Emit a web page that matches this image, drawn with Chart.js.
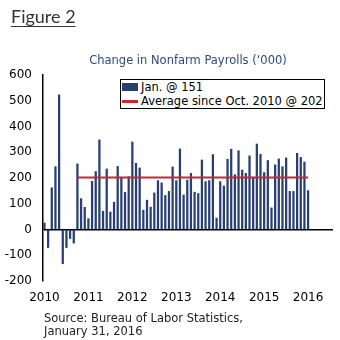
<!DOCTYPE html>
<html>
<head>
<meta charset="utf-8">
<script src="https://cdn.jsdelivr.net/npm/chart.js@4.4.1/dist/chart.umd.min.js"></script>
<style>
  body { margin: 0; background: #fff; }
  #wrap { position: relative; width: 340px; height: 340px; overflow: hidden; font-family: "DejaVu Sans", sans-serif; }
  #chart { position: absolute; left: 0; top: 0; }
  #fig { position: absolute; left: 11px; top: 5px; font-family: Lato, sans-serif; font-size: 18px; line-height: 22px; color: #333; text-decoration: underline; text-decoration-thickness: 1px; text-underline-offset: 3px; }
  #title { position: absolute; left: 43px; width: 290px; top: 53px; text-align: center; font-size: 11.5px; line-height: 14px; color: #2d4a80; white-space: nowrap; }
  #legend { position: absolute; left: 120px; top: 79px; width: 203px; height: 28px; border: 1px solid #000; background: #fff; font-size: 11.5px; color: #000; }
  #legend .row { height: 14px; line-height: 14px; white-space: nowrap; display: flex; align-items: center; }
  #legend .sw { width: 16px; margin-left: 1px; margin-right: 3px; }
  #source { position: absolute; left: 44px; top: 312px; font-size: 11.5px; line-height: 13px; color: #222; }
</style>
</head>
<body>
<div id="wrap">
  <canvas id="chart" width="340" height="340"></canvas>
  <div id="fig">Figure 2</div>
  <div id="title">Change in Nonfarm Payrolls (&#8216;000)</div>
  <div id="legend"></div>
  <div id="source">Source: Bureau of Labor Statistics,<br>January 31, 2016</div>
</div>
<script>
// monthly change in nonfarm payrolls, thousands
const jobs2010 = [25, -70, 162, 244, 523, -133, -70, -35, -53, 255, 120, 86];
const jobs2011 = [42, 187, 225, 348, 71, 235, 68, 106, 245, 203, 144, 205];
const jobs2012 = [340, 257, 239, 75, 114, 87, 142, 190, 181, 132, 148, 243];
const jobs2013 = [190, 313, 134, 192, 218, 145, 140, 270, 186, 190, 291, 44];
const jobs2014 = [186, 169, 273, 312, 213, 306, 231, 218, 286, 203, 332, 292];
const jobs2015 = [221, 268, 84, 251, 274, 244, 278, 148, 148, 296, 280, 262];
const jobs2016 = [151];

const yearTicks = [2010, 2011, 2012, 2013, 2014, 2015, 2016];
const avgValue = 202;
const avgStart = 9; // Oct. 2010

const barLabel = 'Jan. @ 151';
const avgLabel = 'Average since Oct. 2010 @ 202';

const BAR_COLOR = '#283f72';
const AVG_COLOR = '#c8282e';

const payrolls = [].concat(jobs2010, jobs2011, jobs2012, jobs2013, jobs2014, jobs2015, jobs2016);
const barData = payrolls.map((v, i) => ({ x: i, y: v }));
const avgData = payrolls.slice(avgStart).map((v, i) => ({ x: avgStart + i, y: avgValue }));

const ctx = document.getElementById('chart').getContext('2d');
const chart = new Chart(ctx, {
  type: 'bar',
  data: {
    datasets: [
      {
        type: 'line',
        label: avgLabel,
        data: avgData,
        borderColor: AVG_COLOR,
        borderWidth: 2,
        pointRadius: 0,
        fill: false,
        order: 0
      },
      {
        label: barLabel,
        data: barData,
        backgroundColor: BAR_COLOR,
        barThickness: 1.6,
        order: 1
      }
    ]
  },
  options: {
    responsive: false,
    animation: false,
    layout: { padding: { top: 75, right: 7, bottom: 0, left: 0 } },
    plugins: { legend: { display: false }, tooltip: { enabled: false } },
    scales: {
      x: {
        type: 'linear',
        offset: false,
        min: -0.4,
        max: 78.8,
        grid: { display: false, drawTicks: false },
        border: { display: false },
        afterBuildTicks: axis => { axis.ticks = yearTicks.map(y => ({ value: (y - 2010) * 12 })); },
        afterFit: axis => { axis.height = 59; },
        ticks: {
          padding: 10,
          maxRotation: 0,
          autoSkip: false,
          color: '#000',
          font: { family: 'DejaVu Sans', size: 12 },
          callback: v => String(2010 + v / 12)
        }
      },
      y: {
        min: -200,
        max: 600,
        grid: {
          drawTicks: false,
          lineWidth: 1.5,
          color: c => (c.tick && c.tick.value === 0) ? '#000' : 'rgba(0,0,0,0)'
        },
        border: { display: true, color: '#000', width: 1.5 },
        afterFit: axis => { axis.width = 43; },
        ticks: {
          stepSize: 100,
          padding: 11,
          color: '#000',
          font: { family: 'DejaVu Sans', size: 12 }
        }
      }
    }
  }
});

// legend box
const legend = document.getElementById('legend');
[chart.data.datasets[1], chart.data.datasets[0]].forEach(ds => {
  const row = document.createElement('div');
  row.className = 'row';
  const sw = document.createElement('span');
  sw.className = 'sw';
  if (ds.type === 'line') {
    sw.style.height = '3px';
    sw.style.background = ds.borderColor;
  } else {
    sw.style.height = '8px';
    sw.style.background = ds.backgroundColor;
  }
  const txt = document.createElement('span');
  txt.textContent = ds.label;
  row.appendChild(sw);
  row.appendChild(txt);
  legend.appendChild(row);
});
</script>
</body>
</html>
